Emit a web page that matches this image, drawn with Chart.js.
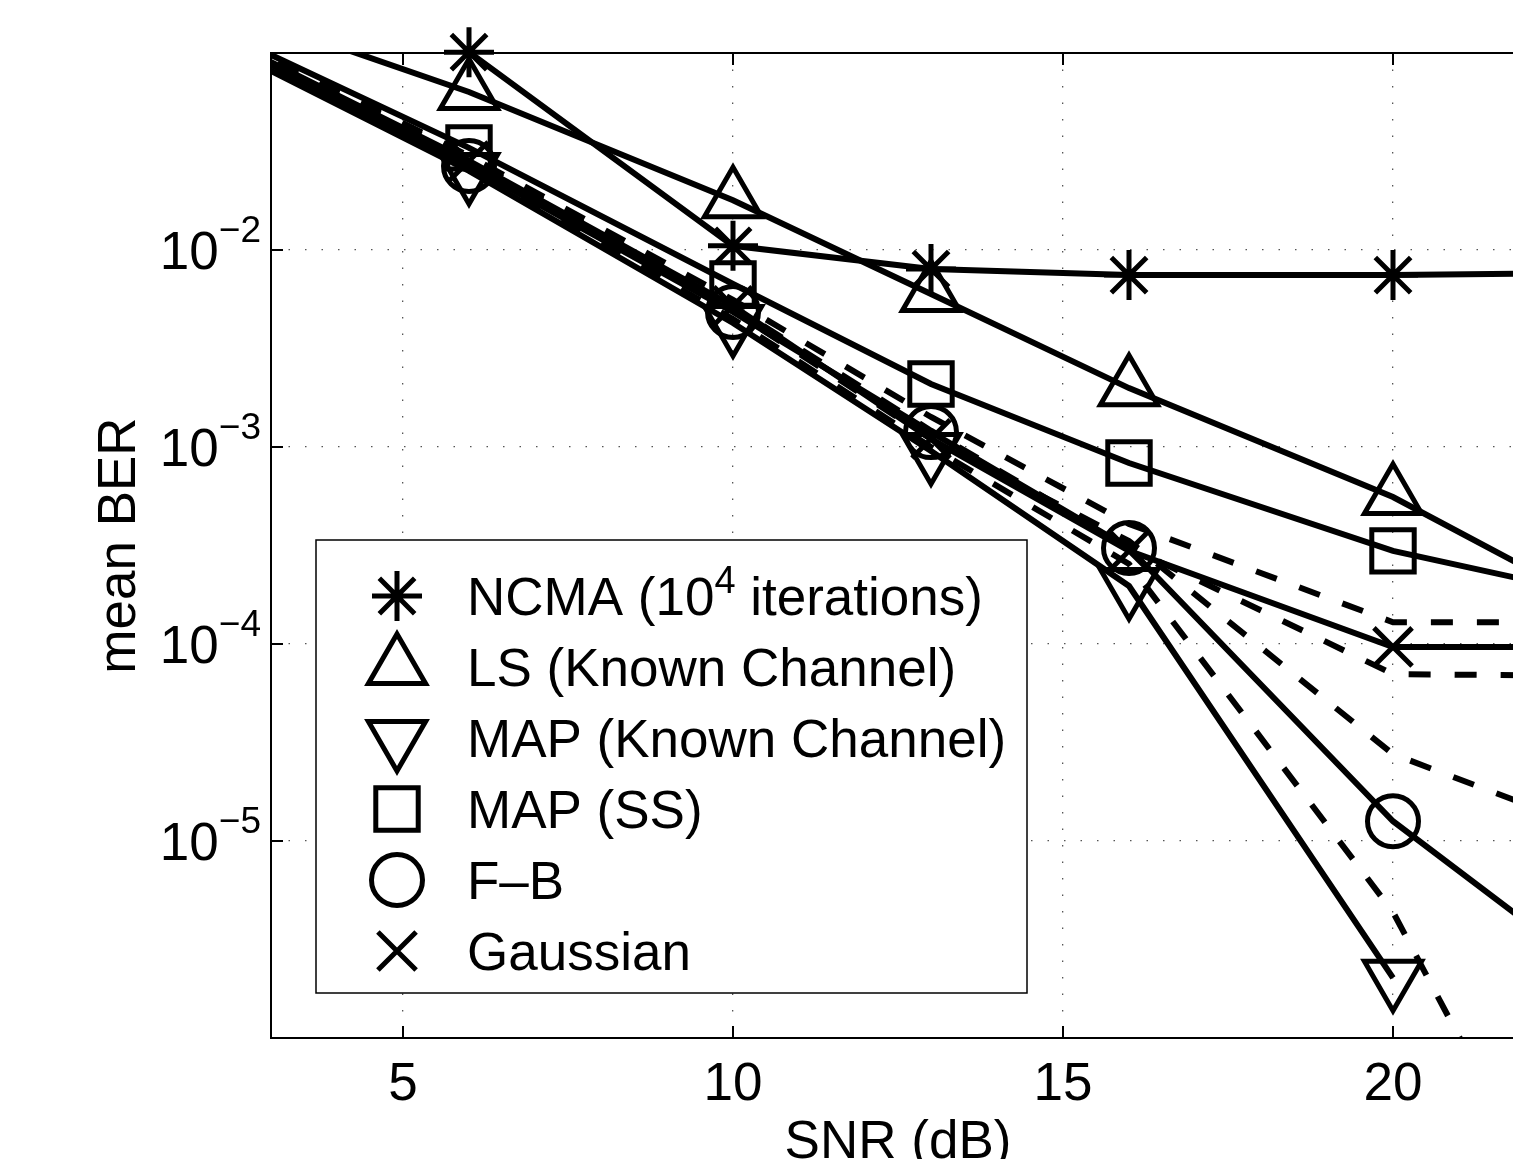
<!DOCTYPE html>
<html>
<head>
<meta charset="utf-8">
<script src="https://cdn.jsdelivr.net/npm/chart.js"></script>
<style>
  html, body { margin: 0; padding: 0; overflow: hidden; background: #fff; }
  #wrap { width: 1540px; height: 1200px; }
  canvas { display: block; }
</style>
</head>
<body>
<div id="wrap"><canvas id="myChart" width="1540" height="1200"></canvas></div>
<script>
// SNR points (dB)
const snr = [0, 6, 10, 13, 16, 20, 23];

// mean BER per curve (null = nothing plotted)
const ncma = [null, 0.101, 0.0105, 0.0080, 0.00746, 0.00746, 0.00764];
const lsKnown = [0.314, 0.0634, 0.0179, 0.00598, 0.00199, 0.000557, 0.000163];
const mapKnown = [0.261, 0.0252, 0.00426, 0.000954, 0.000197, 0.00000202, null];
const mapSS = [0.290, 0.033, 0.00672, 0.00209, 0.000829, 0.000297, 0.000179];
const fb = [0.283, 0.0267, 0.00485, 0.00119, 0.000307, 0.0000126, 0.00000219];
const gaussian = [0.286, 0.0283, 0.0052, 0.0011, 0.000297, 0.0000966, 0.0000966];

// dashed curves, no legend entry
const dash1 = [0.303, 0.030, 0.00558, 0.00142, 0.000407, 0.000129, 0.000129];
const dash2 = [0.300, 0.029, 0.00514, 0.00121, 0.000311, 0.0000704, 0.0000688];
const dash3 = [0.297, 0.028, 0.0049, 0.0011, 0.000333, 0.0000276, 0.0000115];
const dash4 = [0.286, 0.0264, 0.00446, 0.0010, 0.000255, 0.00000436, 0.0000000551];

const xTicks = [5, 10, 15, 20];
const xTickLabels = ["5", "10", "15", "20"];
const yTicks = [1e-2, 1e-3, 1e-4, 1e-5];
const yTickLabels = ["10^{−2}", "10^{−3}", "10^{−4}", "10^{−5}"];
const legendLabels = ["NCMA (10^{4} iterations)", "LS (Known Channel)", "MAP (Known Channel)", "MAP (SS)", "F–B", "Gaussian"];

const FONT = '"Liberation Sans", Arial, Helvetica, sans-serif';

const pts = (ys) => snr.map((x, i) => ({ x: x, y: ys[i] }));

// marker styles, same for plot and legend
const markers = [
  { style: "star", r: 25, rot: 0 },
  { style: "triangle", r: 33, rot: 0 },
  { style: "triangle", r: 33, rot: 180 },
  { style: "rect", r: 30, rot: 0 },
  { style: "circle", r: 25.5, rot: 0 },
  { style: "crossRot", r: 27, rot: 0 },
];

function solid(label, ys, m) {
  return {
    label: label,
    data: pts(ys),
    borderColor: "#000",
    borderWidth: 6,
    pointStyle: m.style,
    pointRadius: m.r,
    pointHoverRadius: m.r,
    pointRotation: m.rot,
    pointBorderWidth: 5,
    pointBorderColor: "#000",
    pointBackgroundColor: "rgba(0,0,0,0)",
    tension: 0,
    fill: false,
  };
}

function dashed(ys) {
  return {
    label: "",
    data: pts(ys),
    borderColor: "#000",
    borderWidth: 6,
    borderDash: [22, 24],
    pointRadius: 0,
    tension: 0,
    fill: false,
  };
}

const ncmaSet = solid(legendLabels[0], ncma, markers[0]);
ncmaSet.clip = false; // the 6 dB marker pokes above the axes like in the original

const datasets = [
  ncmaSet,
  solid(legendLabels[1], lsKnown, markers[1]),
  solid(legendLabels[2], mapKnown, markers[2]),
  solid(legendLabels[3], mapSS, markers[3]),
  solid(legendLabels[4], fb, markers[4]),
  solid(legendLabels[5], gaussian, markers[5]),
  dashed(dash1),
  dashed(dash2),
  dashed(dash3),
  dashed(dash4),
];

// text with ^{...} superscripts
function drawRich(ctx, text, x, y, size, supSize, rise, align) {
  const parts = [];
  const re = /\^\{([^}]*)\}/g;
  let last = 0, m;
  while ((m = re.exec(text))) {
    if (m.index > last) parts.push({ t: text.slice(last, m.index), sup: false });
    parts.push({ t: m[1], sup: true });
    last = re.lastIndex;
  }
  if (last < text.length) parts.push({ t: text.slice(last), sup: false });
  const fontOf = (p) => (p.sup ? supSize : size) + "px " + FONT;
  let total = 0;
  parts.forEach((p) => { ctx.font = fontOf(p); p.w = ctx.measureText(p.t).width; total += p.w; });
  let cx = align === "right" ? x - total : align === "center" ? x - total / 2 : x;
  ctx.textAlign = "left";
  ctx.textBaseline = "alphabetic";
  parts.forEach((p) => { ctx.font = fontOf(p); ctx.fillText(p.t, cx, p.sup ? y - rise : y); cx += p.w; });
}

function drawMarker(ctx, m, x, y) {
  ctx.save();
  ctx.strokeStyle = "#000";
  ctx.fillStyle = "rgba(0,0,0,0)";
  ctx.lineWidth = 5;
  Chart.helpers.drawPoint(ctx, { pointStyle: m.style, rotation: m.rot, radius: m.r, borderWidth: 5 }, x, y);
  ctx.restore();
}

const matlabAxes = {
  id: "matlabAxes",
  afterDraw(chart) {
    const ctx = chart.ctx;
    const a = chart.chartArea;
    const xs = chart.scales.x, ys = chart.scales.y;
    ctx.save();
    ctx.strokeStyle = "#000";
    ctx.fillStyle = "#000";
    ctx.lineWidth = 2;

    // top and right edges of the box
    ctx.beginPath();
    ctx.moveTo(a.left, a.top); ctx.lineTo(a.right, a.top); ctx.lineTo(a.right, a.bottom);
    ctx.stroke();

    // inward tick marks
    ctx.beginPath();
    xTicks.forEach((v) => {
      const px = xs.getPixelForValue(v);
      ctx.moveTo(px, a.bottom); ctx.lineTo(px, a.bottom - 12);
      ctx.moveTo(px, a.top); ctx.lineTo(px, a.top + 12);
    });
    yTicks.forEach((v) => {
      const py = ys.getPixelForValue(v);
      ctx.moveTo(a.left, py); ctx.lineTo(a.left + 12, py);
      ctx.moveTo(a.right, py); ctx.lineTo(a.right - 12, py);
    });
    ctx.stroke();

    // tick labels
    xTicks.forEach((v, i) => drawRich(ctx, xTickLabels[i], xs.getPixelForValue(v), a.bottom + 62, 53, 37, 0, "center"));
    yTicks.forEach((v, i) => drawRich(ctx, yTickLabels[i], a.left - 10, ys.getPixelForValue(v) + 19, 53, 37, 27, "right"));

    // axis titles
    drawRich(ctx, "SNR (dB)", (a.left + a.right) / 2, a.bottom + 120, 53, 37, 0, "center");
    ctx.save();
    ctx.translate(135, (a.top + a.bottom) / 2);
    ctx.rotate(-Math.PI / 2);
    drawRich(ctx, "mean BER", 0, 0, 53, 37, 0, "center");
    ctx.restore();

    // legend
    const bx = 316, by = 540, bw = 711, bh = 453;
    ctx.fillStyle = "#fff";
    ctx.fillRect(bx, by, bw, bh);
    ctx.lineWidth = 1.5;
    ctx.strokeRect(bx, by, bw, bh);
    ctx.fillStyle = "#000";
    legendLabels.forEach((lab, i) => {
      const cy = 596 + 71 * i;
      drawMarker(ctx, markers[i], 397, cy);
      drawRich(ctx, lab, 467, cy + 19, 53, 38, 22, "left");
    });
    ctx.restore();
  },
};

const config = {
  type: "line",
  data: { datasets: datasets },
  options: {
    responsive: false,
    animation: false,
    events: [],
    layout: { autoPadding: false, padding: { left: 271, top: 53, right: 15, bottom: 162 } },
    plugins: { legend: { display: false }, tooltip: { enabled: false } },
    scales: {
      x: {
        type: "linear",
        min: 3,
        max: 22,
        ticks: { display: false },
        title: { display: false },
        grid: { drawTicks: false, color: "#555", lineWidth: 1.3 },
        border: { color: "#000", width: 2, dash: [1.5, 15] },
        afterBuildTicks: (s) => { s.ticks = xTicks.map((v) => ({ value: v })); },
      },
      y: {
        type: "logarithmic",
        min: 1e-6,
        max: 0.1,
        ticks: { display: false },
        title: { display: false },
        grid: { drawTicks: false, color: "#555", lineWidth: 1.3 },
        border: { color: "#000", width: 2, dash: [1.5, 15] },
        afterBuildTicks: (s) => { s.ticks = yTicks.map((v) => ({ value: v })); },
      },
    },
  },
  plugins: [matlabAxes],
};

const myChart = new Chart(document.getElementById("myChart"), config);
</script>
</body>
</html>
